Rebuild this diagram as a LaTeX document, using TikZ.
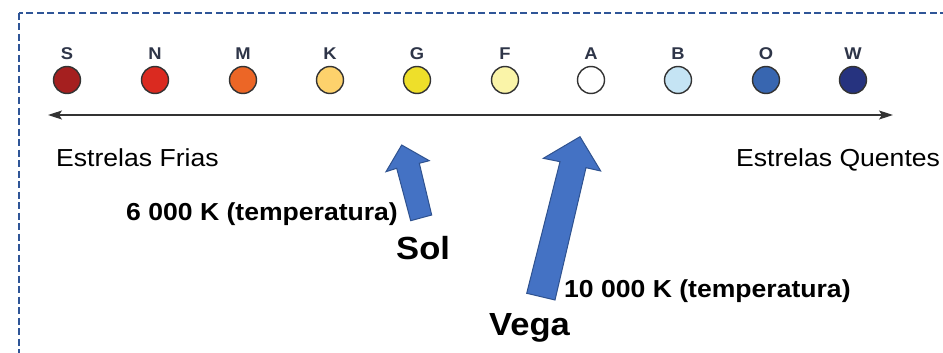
\documentclass[tikz,border=0pt]{standalone}
\usepackage{fontspec}
\setmainfont[FakeStretch=1.08]{Liberation Sans}
\usetikzlibrary{arrows.meta}
\definecolor{bordercol}{HTML}{2F5597}
\definecolor{outline}{HTML}{333333}
\definecolor{lettcol}{HTML}{2E3548}
\definecolor{cS}{HTML}{A51F1F}
\definecolor{cN}{HTML}{DA2A20}
\definecolor{cM}{HTML}{EC6626}
\definecolor{cK}{HTML}{FDD26C}
\definecolor{cG}{HTML}{EEDF2A}
\definecolor{cF}{HTML}{FAF4A8}
\definecolor{cA}{HTML}{FFFFFF}
\definecolor{cB}{HTML}{C5E4F4}
\definecolor{cO}{HTML}{3866B0}
\definecolor{cW}{HTML}{26337F}
\definecolor{arrfill}{HTML}{4472C4}
\definecolor{arrdraw}{HTML}{2F528F}
\tikzset{
  border/.style={draw=bordercol, line width=2pt, dash pattern=on 7pt off 3.5pt},
  starc/.style={circle, draw=outline, line width=1.4pt, minimum size=27pt, inner sep=0pt},
  lett/.style={anchor=base, inner sep=0pt, text=lettcol, font=\fontsize{17}{17}\selectfont\bfseries},
  axisline/.style={draw=outline, line width=1.3pt, {Stealth[length=14pt,width=9pt,inset=3pt]}-{Stealth[length=14pt,width=9pt,inset=3pt]}},
  plain/.style={anchor=base west, inner sep=0pt, font=\fontsize{24.6}{24.6}\selectfont},
  boldlab/.style={anchor=base west, inner sep=0pt, font=\fontsize{24.6}{24.6}\selectfont\bfseries},
  bigname/.style={anchor=base west, inner sep=0pt, font=\fontsize{32}{32}\selectfont\bfseries},
  blockarrow/.style={fill=arrfill, draw=arrdraw, line width=1pt, line join=miter}
}
\begin{document}
\begin{tikzpicture}[x=1pt,y=-1pt]
\useasboundingbox (0,0) rectangle (943,353);
\begin{scope}
\clip (0,0) rectangle (943,353);
\draw[border] (19,13) rectangle (1000,420);
\end{scope}

% stars
\foreach \n/\x in {S/67,N/155,M/243,K/330,G/417,F/505,A/591,B/678,O/766,W/853}{
  \node[starc, fill=c\n] (star\n) at (\x,80) {};
  \node[lett] (lab\n) at (\x,59.5) {\n};
}

% axis
\coordinate (axL) at (48,115);
\coordinate (axR) at (893,115);
\draw[axisline] (axL) -- (axR);

\node[plain] (frias) at (56,166.7) {Estrelas Frias};
\node[plain] (quentes) at (736,166) {Estrelas Quentes};

% Sol arrow
\coordinate (s1) at (401.7,145);
\coordinate (s2) at (429.3,160.7);
\coordinate (s3) at (419.3,163.3);
\coordinate (s4) at (431.7,215);
\coordinate (s5) at (410.7,220.7);
\coordinate (s6) at (396.7,168.3);
\coordinate (s7) at (386,171.7);
\draw[blockarrow] (s1) -- (s2) -- (s3) -- (s4) -- (s5) -- (s6) -- (s7) -- cycle;

% Vega arrow
\coordinate (v1) at (580,136.7);
\coordinate (v2) at (600.7,171);
\coordinate (v3) at (586,167.7);
\coordinate (v4) at (555,300);
\coordinate (v5) at (526.7,293.3);
\coordinate (v6) at (560,161.7);
\coordinate (v7) at (543.3,158.3);
\draw[blockarrow] (v1) -- (v2) -- (v3) -- (v4) -- (v5) -- (v6) -- (v7) -- cycle;

\node[boldlab] (tsol) at (126,220) {6 000 K (temperatura)};
\node[bigname] (sol) at (396,259) {Sol};
\node[boldlab] (tvega) at (564,297) {10 000 K (temperatura)};
\node[bigname] (vega) at (489,335) {Vega};
\end{tikzpicture}
\end{document}
